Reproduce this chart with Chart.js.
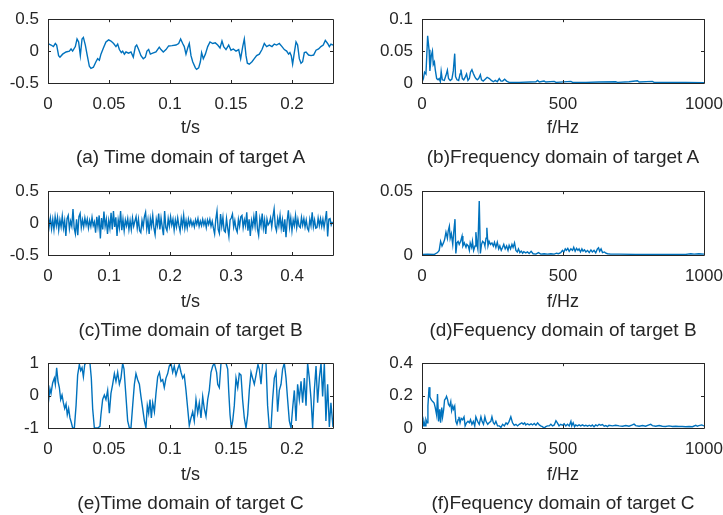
<!DOCTYPE html>
<html>
<head>
<meta charset="utf-8">
<script src="https://cdn.jsdelivr.net/npm/chart.js@4"></script>
<style>
  html, body { margin: 0; padding: 0; background: #fff; width: 723px; height: 515px; overflow: hidden; position: relative; font-family: "Liberation Sans", Arial, sans-serif; }
  canvas { position: absolute; }
  .cap { position: absolute; white-space: nowrap; color: #262626; font-size: 19px; line-height: 20px; transform: translateX(-50%); }
</style>
</head>
<body>
<canvas id="pa"></canvas>
<canvas id="pb"></canvas>
<canvas id="pc"></canvas>
<canvas id="pd"></canvas>
<canvas id="pe"></canvas>
<canvas id="pf"></canvas>
<script>
// (a) target A, time domain
const timeA = [0,0.0025,0.0044,0.0060,0.0071,0.0087,0.0098,0.0120,0.0148,0.0175,
  0.0189,0.0202,0.0224,0.0238,0.0251,0.0265,0.0279,0.0290,0.0306,0.0322,
  0.0339,0.0352,0.0372,0.0393,0.0407,0.0421,0.0434,0.0454,0.0475,0.0497,
  0.0516,0.0538,0.0557,0.0571,0.0585,0.0601,0.0612,0.0626,0.0639,0.0661,
  0.0680,0.0699,0.0716,0.0727,0.0743,0.0762,0.0781,0.0798,0.0811,0.0825,
  0.0839,0.0858,0.0885,0.0912,0.0926,0.0945,0.0967,0.0989,0.1016,0.1049,
  0.1071,0.1087,0.1104,0.1117,0.1131,0.1145,0.1158,0.1172,0.1186,0.1208,
  0.1218,0.1235,0.1249,0.1259,0.1273,0.1290,0.1309,0.1328,0.1350,0.1371,
  0.1391,0.1410,0.1426,0.1440,0.1459,0.1481,0.1500,0.1519,0.1541,0.1563,
  0.1579,0.1596,0.1609,0.1623,0.1634,0.1650,0.1672,0.1691,0.1710,0.1732,
  0.1754,0.1773,0.1792,0.1814,0.1836,0.1855,0.1874,0.1896,0.1918,0.1937,
  0.1956,0.1972,0.1983,0.1994,0.2005,0.2019,0.2033,0.2046,0.2060,0.2074,
  0.2087,0.2101,0.2115,0.2136,0.2156,0.2177,0.2197,0.2218,0.2237,0.2256,
  0.2273,0.2292,0.2306,0.2319,0.2336];
const valueA = [0.119,0.095,0.071,0.119,0.095,-0.071,-0.095,-0.048,-0.014,0,
  0.033,0,0.071,0.19,0.143,-0.071,0.19,0.214,0.095,-0.071,
  -0.238,-0.271,-0.252,-0.167,-0.119,-0.143,-0.048,0.048,0.143,0.176,
  0.157,0.119,0.071,0.110,0.024,-0.024,0,-0.048,-0.014,-0.033,
  -0.014,-0.095,0.071,0.095,0.024,-0.071,-0.119,-0.095,0,0.024,
  -0.048,-0.033,-0.014,0.062,0.024,-0.014,0.024,0.081,0.086,0.095,
  0.119,0.19,0.119,0.071,-0.048,0.048,0.119,-0.071,-0.167,-0.262,
  -0.286,-0.262,-0.167,-0.024,-0.119,-0.048,0.071,0.143,0.119,0.129,
  0.095,0.048,0.157,0.071,0.024,0.095,0.014,0.033,0,0.024,
  -0.119,0.071,0.19,-0.071,-0.19,-0.205,-0.167,-0.119,-0.071,-0.048,
  0.024,0.119,0.071,0.095,0.071,0.110,0.095,0.119,0.071,0.024,
  0,-0.048,-0.024,-0.071,-0.205,-0.024,0.143,0.095,-0.119,-0.19,
  -0.167,-0.024,-0.014,-0.062,-0.071,-0.062,0.014,0.033,0.071,0.095,
  0.167,0.119,0.071,0.110,0.095];

// (b) target A, spectrum
const freqA = [0,5,9,14,20,25,28,33,37,40, 44,47,52,57,61,65,68,72,79,85,
  90,94,100,106,111,116,119,124,130,135, 138,143,148,154,158,163,168,172,177,182,
  187,191,196,201,207,211,217,224,231,239, 246,253,260,267,274,280,286,293,300,309,
  345,404,410,416,433,439,469,475,528,534, 581,628,687,693,734,764,770,817,823,876,
  935,1000];
const ampA = [0.001,0.007,0.017,0.014,0.074,0.052,0.019,0.043,0.050,0.029,
  0.033,0.021,0.007,0.005,0.007,0.002,0.018,0.005,0.004,0.012,
  0.020,0.007,0.004,0.006,0.019,0.046,0.010,0.005,0.004,0.014,
  0.021,0.007,0.005,0.010,0.014,0.004,0.007,0.017,0.021,0.015,
  0.010,0.007,0.005,0.007,0.013,0.005,0.003,0.006,0.009,0.007,
  0.004,0.002,0.004,0.002,0.007,0.003,0.003,0.006,0.003,0.001,
  0.001,0.002,0.004,0.0015,0.003,0.0015,0.0025,0.001,0.0025,0.001,
  0.001,0.0015,0.002,0.001,0.002,0.0035,0.0015,0.0025,0.001,0.001,
  0.001,0.0005];

// (c) target B, time domain (one value per sample)
const sampleStepB = 0.00195;
const valueB = [0.14,-0.05,0.08,-0.09,0.06,-0.1,0.1,-0.04,0.09,-0.11,
  0.05,-0.06,0.11,-0.08,0.04,-0.2,0.07,0.12,-0.09,0.03,
  -0.05,0.22,-0.08,-0.17,0.06,-0.19,0.1,0.15,-0.07,0.05,
  -0.06,0.08,-0.03,0.06,-0.08,0.04,-0.05,0.09,-0.04,0.02,
  -0.15,0.1,-0.06,0.12,-0.24,0.08,-0.1,0.18,-0.05,0.06,
  -0.17,0.04,-0.08,0.16,-0.1,0.19,-0.06,0.09,-0.2,0.05,
  -0.07,0.19,-0.11,0.06,-0.12,0.05,-0.04,0.07,-0.1,0.04,
  -0.1,0.08,-0.05,0.03,0.1,-0.08,0.06,-0.12,-0.15,0.04,
  -0.06,0.1,0.17,-0.09,0.05,-0.17,0.07,-0.05,0.12,-0.08,
  -0.18,0.06,-0.04,0.15,-0.1,0.08,-0.06,-0.19,0.19,-0.07,
  -0.12,0.07,-0.05,0.1,-0.03,0.06,-0.11,0.05,-0.06,0.08,
  -0.04,-0.13,0.07,-0.05,0.12,-0.08,0.04,-0.08,0.06,-0.03,
  0.05,-0.04,0.02,-0.06,0.05,-0.02,0.07,-0.05,0.03,-0.04,
  0.06,-0.03,0.04,-0.07,0.05,-0.02,0.06,-0.05,0.03,-0.08,
  -0.17,0.06,0.19,-0.1,-0.16,0.14,-0.05,0.09,-0.12,-0.14,
  0.07,-0.08,-0.21,0.05,0.08,0.14,-0.06,0.04,-0.09,-0.14,
  0.06,-0.05,0.1,0.12,-0.07,0.05,-0.04,0.17,-0.12,0.06,
  -0.2,0.04,-0.06,0.1,-0.05,0.19,-0.09,-0.19,0.07,-0.04,
  0.15,-0.08,0.05,-0.17,0.06,-0.03,0.0,0.08,-0.06,0.1,
  0.22,-0.05,-0.12,0.07,-0.04,0.12,-0.08,0.05,-0.14,0.06,
  -0.22,0.04,0.2,-0.06,0.08,-0.12,0.05,-0.04,0.12,-0.07,
  0.06,-0.05,-0.07,0.09,-0.03,0.07,-0.06,0.05,-0.08,-0.12,
  0.06,-0.04,0.17,-0.06,0.05,-0.08,-0.07,0.08,-0.04,0.07,
  -0.05,0.06,-0.07,0.05,0.19,-0.21,0.06,0.07,-0.03,0.02];

// (d) target B, spectrum
const freqB = [0,20,44,55,61,66,71,76,80,85, 90,93,97,100,104,109,113,117,120,124,
  128,132,137,142,145,150,156,159,164,168, 171,176,179,183,188,191,195,198,203,207,
  211,215,220,223,227,230,234,238,243,248, 253,257,262,267,272,276,281,286,290,295,
  300,305,309,314,319,323,328,333,338,342, 347,352,357,361,368,374,380,387,394,404,
  413,421,433,445,457,469,477,484,492,498, 503,508,512,517,522,528,534,538,543,548,
  553,557,562,567,571,576,581,587,593,599, 604,610,616,622,626,630,635,640,647,652,
  658,669,699,758,817,876,935,953,965,982,1000];
const ampB = [0.0005,0.0007,0.0005,0.0019,0.0036,0.0107,0.0071,0.0095,0.0119,0.0179,
  0.0131,0.0190,0.0226,0.0131,0.0167,0.0083,0.0190,0.0281,0.0012,0.0095,
  0.0107,0.0083,0.0107,0.0148,0.0071,0.0095,0.0060,0.0083,0.0071,0.0036,
  0.0095,0.0060,0.0107,0.0036,0.0071,0.0179,0.0083,0.0048,0.0424,0.0012,
  0.0083,0.0107,0.0095,0.0071,0.0131,0.0214,0.0071,0.0107,0.0083,0.0095,
  0.0071,0.0100,0.0060,0.0100,0.0048,0.0071,0.0036,0.0060,0.0083,0.0048,
  0.0071,0.0036,0.0076,0.0048,0.0083,0.0060,0.0095,0.0036,0.0024,0.0048,
  0.0019,0.0031,0.0014,0.0026,0.0017,0.0024,0.0012,0.0029,0.0010,0.0007,
  0.0019,0.0007,0.0010,0.0007,0.0010,0.0007,0.0014,0.0010,0.0019,0.0036,
  0.0024,0.0048,0.0036,0.0052,0.0029,0.0048,0.0036,0.0060,0.0029,0.0052,
  0.0036,0.0048,0.0024,0.0048,0.0031,0.0040,0.0024,0.0036,0.0019,0.0040,
  0.0024,0.0036,0.0017,0.0048,0.0057,0.0029,0.0048,0.0019,0.0024,0.0014,
  0.0010,0.0007,0.0007,0.0005,0.0005,0.0005,0.0005,0.0010,0.0007,0.0010,0.0007];

// (e) target C, time domain
const timeC = [0,0.0016,0.0025,0.0038,0.0052,0.0060,0.0071,0.0082,0.0093,0.0104,
  0.0115,0.0126,0.0137,0.0148,0.0158,0.0169,0.0180,0.0191,0.0202,0.0216,
  0.0230,0.0243,0.0257,0.0268,0.0279,0.0290,0.0301,0.0311,0.0333,0.0344,
  0.0355,0.0366,0.0380,0.0407,0.0426,0.0434,0.0448,0.0462,0.0475,0.0489,
  0.0503,0.0516,0.0530,0.0544,0.0557,0.0571,0.0585,0.0598,0.0612,0.0623,
  0.0639,0.0653,0.0667,0.0680,0.0694,0.0708,0.0721,0.0735,0.0749,0.0762,
  0.0776,0.0790,0.0803,0.0814,0.0825,0.0836,0.0847,0.0858,0.0872,0.0885,
  0.0899,0.0913,0.0926,0.0940,0.0953,0.0967,0.0981,0.0994,0.1008,0.1022,
  0.1035,0.1049,0.1063,0.1076,0.1090,0.1104,0.1117,0.1131,0.1145,0.1158,
  0.1172,0.1186,0.1199,0.1213,0.1227,0.1240,0.1254,0.1268,0.1281,0.1295,
  0.1309,0.1322,0.1336,0.1350,0.1363,0.1382,0.1391,0.1404,0.1418,0.1432,
  0.1459,0.1473,0.1481,0.1492,0.1503,0.1514,0.1527,0.1541,0.1555,0.1568,
  0.1582,0.1595,0.1609,0.1623,0.1637,0.1650,0.1664,0.1677,0.1691,0.1705,
  0.1721,0.1732,0.1746,0.1759,0.1773,0.1787,0.1800,0.1814,0.1828,0.1841,
  0.1855,0.1869,0.1882,0.1896,0.1910,0.1923,0.1937,0.1951,0.1964,0.1978,
  0.1992,0.2005,0.2019,0.2033,0.2046,0.2060,0.2074,0.2087,0.2101,0.2115,
  0.2128,0.2142,0.2156,0.2169,0.2183,0.2197,0.2210,0.2224,0.2238,0.2251,
  0.2265,0.2278,0.2292,0.2306,0.2319,0.2336];
const valueC = [-0.31,0.21,0.07,0.39,0.54,0.35,0.86,0.44,0.25,-0.12,
  0.02,-0.22,-0.40,-0.26,-0.59,-0.40,-0.69,-0.83,-1,-1,
  -0.31,0.63,0.96,0.77,0.86,0.58,0.96,1,1,1,
  0.54,-0.40,-1,-1,-0.95,-0.59,-0.12,0.02,-0.12,0.16,
  -0.54,0.07,0.35,0.68,0.44,0.72,0.35,0.54,1,0.82,
  -0.03,-0.78,-1,-1,-0.31,0.35,0.68,0.49,0.35,-0.03,
  -0.40,-0.78,-1,-0.31,-0.54,-0.12,-0.69,-0.22,-0.50,0.07,
  0.58,0.72,0.44,0.49,0.25,0.54,0.68,0.91,1,0.72,
  0.91,0.63,0.82,0.96,0.72,0.54,0.63,0.16,-0.40,-0.92,
  -0.69,-0.50,-0.78,-0.12,-0.54,-0.22,-0.69,-0.03,-0.40,-0.64,
  -0.12,0.16,0.72,0.91,1,0.72,0.35,0.25,1,1,
  1,0.82,0.16,-0.59,-1,-0.78,-0.31,0.54,0.25,0.68,
  0.63,-0.12,-0.69,-1,-0.59,0.16,0.72,0.54,0.35,0.63,
  0.96,0.82,0.35,1,1,1,-0.31,-1,-1,-0.12,
  0.54,0.72,-0.50,0.16,0.35,0.82,1,0.54,-0.12,-0.78,
  -1,-0.40,0.16,-0.78,0.35,-0.12,0.44,-0.22,0.54,-0.31,
  1,0.54,-0.12,-1,0.16,0.91,-0.22,0.54,1,-0.03,
  1,-0.78,0.35,-0.97,-0.22,-0.97];

// (f) target C, spectrum
const freqC = [0,4,7,11,14,18,21,25,28,33, 38,43,47,52,55,59,63,66,70,73,
  77,80,84,87,91,94,98,102,105,109, 112,116,120,124,128,131,135,139,144,149,
  153,158,163,168,172,177,182,187,191,197, 203,209,213,218,223,227,233,238,244,248,
  253,257,262,268,274,280,286,292,298,303, 309,315,321,327,333,339,345,354,359,364,
  368,374,380,387,392,398,404,410,416,421, 427,433,439,445,451,457,463,469,475,480,
  486,492,498,504,510,516,522,528,531,536, 541,545,551,557,563,569,575,581,587,593,
  599,604,610,616,622,628,634,640,646,652, 658,663,675,687,699,711,723,734,746,752,
  758,770,782,793,805,811,817,829,841,852, 864,876,888,900,911,923,935,947,959,971,
  976,982,992,1000];
const ampC = [0.060,0.013,0.041,0.013,0.051,0.032,0.135,0.252,0.192,0.173,
  0.163,0.154,0.126,0.079,0.210,0.041,0.116,0.032,0.126,0.069,
  0.116,0.173,0.182,0.195,0.173,0.145,0.135,0.163,0.107,0.135,
  0.116,0.135,0.041,0.023,0.051,0.069,0.032,0.060,0.051,0.069,
  0.013,0.032,0.041,0.032,0.051,0.023,0.041,0.013,0.069,0.041,
  0.023,0.069,0.041,0.023,0.069,0.041,0.023,0.032,0.041,0.069,
  0.032,0.023,0.041,0.013,0.013,0.004,0.023,0.013,0.032,0.023,
  0.041,0.069,0.032,0.017,0.023,0.013,0.023,0.032,0.023,0.032,
  0.019,0.026,0.019,0.026,0.019,0.028,0.017,0.032,0.019,0.013,
  0.008,0.000,0.008,0.013,0.013,0.023,0.013,0.019,0.045,0.032,
  0.013,0.023,0.017,0.026,0.013,0.023,0.013,0.041,0.013,0.032,
  0.008,0.019,0.013,0.019,0.013,0.019,0.013,0.017,0.011,0.017,
  0.011,0.019,0.008,0.019,0.013,0.023,0.017,0.021,0.011,0.015,
  0.009,0.017,0.013,0.017,0.013,0.011,0.015,0.011,0.019,0.024,
  0.015,0.011,0.015,0.011,0.019,0.023,0.015,0.011,0.015,0.011,
  0.009,0.013,0.009,0.011,0.009,0.009,0.008,0.009,0.008,0.017,
  0.011,0.015,0.019,0.013];

// tick values and labels
const timeTicksShort = [0, 0.05, 0.1, 0.15, 0.2];
const timeLabelsShort = ["0", "0.05", "0.1", "0.15", "0.2"];
const timeTicksLong = [0, 0.1, 0.2, 0.3, 0.4];
const timeLabelsLong = ["0", "0.1", "0.2", "0.3", "0.4"];
const freqTicks = [0, 500, 1000];
const freqLabels = ["0", "500", "1000"];

const lineColor = "#0072BD";
const axisColor = "#262626";

function pairs(xs, ys) {
  return xs.map((x, i) => ({ x: x, y: ys[i] }));
}

// layout of each panel on the page (pixels)
const rows = [
  { top: 0, height: 172, plotTop: 13, plotBottom: 83, titleY: 128, captionY: 157 },
  { top: 172, height: 172, plotTop: 185, plotBottom: 255, titleY: 302, captionY: 330 },
  { top: 344, height: 171, plotTop: 357, plotBottom: 428, titleY: 475, captionY: 503 }
];
const cols = [
  { left: 0, width: 345, plotLeft: 48, plotRight: 333 },
  { left: 372, width: 368, plotLeft: 422, plotRight: 704 }
];

const panels = [
  { id: "pa", row: 0, col: 0, points: pairs(timeA, valueA), xMax: 0.2336,
    xTicks: timeTicksShort, xLabels: timeLabelsShort, yMin: -0.5, yMax: 0.5,
    yTicks: [-0.5, 0, 0.5], yLabels: ["-0.5", "0", "0.5"], xTitle: "t/s",
    caption: "(a) Time domain of target A" },
  { id: "pb", row: 0, col: 1, points: pairs(freqA, ampA), xMax: 1000,
    xTicks: freqTicks, xLabels: freqLabels, yMin: 0, yMax: 0.1,
    yTicks: [0, 0.05, 0.1], yLabels: ["0", "0.05", "0.1"], xTitle: "f/Hz",
    caption: "(b)Frequency domain of target A" },
  { id: "pc", row: 1, col: 0, points: valueB.map((v, i) => ({ x: i * sampleStepB, y: v })), xMax: 0.467,
    xTicks: timeTicksLong, xLabels: timeLabelsLong, yMin: -0.5, yMax: 0.5,
    yTicks: [-0.5, 0, 0.5], yLabels: ["-0.5", "0", "0.5"], xTitle: "t/s",
    caption: "(c)Time domain of target B" },
  { id: "pd", row: 1, col: 1, points: pairs(freqB, ampB), xMax: 1000,
    xTicks: freqTicks, xLabels: freqLabels, yMin: 0, yMax: 0.05,
    yTicks: [0, 0.05], yLabels: ["0", "0.05"], xTitle: "f/Hz",
    caption: "(d)Fequency domain of target B" },
  { id: "pe", row: 2, col: 0, points: pairs(timeC, valueC), xMax: 0.2336,
    xTicks: timeTicksShort, xLabels: timeLabelsShort, yMin: -1, yMax: 1,
    yTicks: [-1, 0, 1], yLabels: ["-1", "0", "1"], xTitle: "t/s",
    caption: "(e)Time domain of target C" },
  { id: "pf", row: 2, col: 1, points: pairs(freqC, ampC), xMax: 1000,
    xTicks: freqTicks, xLabels: freqLabels, yMin: 0, yMax: 0.4,
    yTicks: [0, 0.2, 0.4], yLabels: ["0", "0.2", "0.4"], xTitle: "f/Hz",
    caption: "(f)Fequency domain of target C" }
];

// MATLAB style box with inward tick marks
const boxPlugin = {
  id: "box",
  afterDatasetsDraw(chart) {
    const { ctx, chartArea: a, scales } = chart;
    const tick = 3;
    ctx.save();
    ctx.strokeStyle = axisColor;
    ctx.lineWidth = 1;
    ctx.beginPath();
    ctx.rect(Math.round(a.left) + 0.5, Math.round(a.top) + 0.5,
      Math.round(a.right - a.left), Math.round(a.bottom - a.top));
    scales.x.ticks.forEach(t => {
      const px = Math.round(scales.x.getPixelForValue(t.value)) + 0.5;
      ctx.moveTo(px, a.bottom); ctx.lineTo(px, a.bottom - tick);
      ctx.moveTo(px, a.top); ctx.lineTo(px, a.top + tick);
    });
    scales.y.ticks.forEach(t => {
      const py = Math.round(scales.y.getPixelForValue(t.value)) + 0.5;
      ctx.moveTo(a.left, py); ctx.lineTo(a.left + tick, py);
      ctx.moveTo(a.right, py); ctx.lineTo(a.right - tick, py);
    });
    ctx.stroke();
    ctx.restore();
  }
};

panels.forEach(p => {
  const r = rows[p.row];
  const c = cols[p.col];
  const canvas = document.getElementById(p.id);
  canvas.width = c.width;
  canvas.height = r.height;
  canvas.style.left = c.left + "px";
  canvas.style.top = r.top + "px";

  const xHeight = r.top + r.height - r.plotBottom;
  const titleFont = 18;
  const titlePad = r.top + r.height - r.titleY - titleFont * 0.6;

  new Chart(canvas, {
    type: "line",
    data: {
      datasets: [{
        data: p.points,
        borderColor: lineColor,
        borderWidth: 1.4,
        pointRadius: 0,
        tension: 0,
        fill: false
      }]
    },
    options: {
      responsive: false,
      animation: false,
      events: [],
      layout: { padding: { left: 0, right: c.left + c.width - c.plotRight, top: r.plotTop - r.top, bottom: 0 } },
      plugins: { legend: { display: false }, tooltip: { enabled: false } },
      scales: {
        x: {
          type: "linear",
          min: 0,
          max: p.xMax,
          afterBuildTicks: s => { s.ticks = p.xTicks.map(v => ({ value: v })); },
          afterFit: s => { s.height = xHeight; },
          grid: { display: false, drawTicks: false },
          border: { display: false },
          ticks: {
            padding: 11,
            maxRotation: 0,
            autoSkip: false,
            color: axisColor,
            font: { family: "Liberation Sans", size: 17 },
            callback: (v, i) => p.xLabels[i]
          },
          title: {
            display: true,
            text: p.xTitle,
            color: axisColor,
            font: { family: "Liberation Sans", size: titleFont },
            padding: { top: 0, bottom: titlePad }
          }
        },
        y: {
          min: p.yMin,
          max: p.yMax,
          afterBuildTicks: s => { s.ticks = p.yTicks.map(v => ({ value: v })); },
          afterFit: s => { s.width = c.plotLeft - c.left; },
          grid: { display: false, drawTicks: false },
          border: { display: false },
          ticks: {
            padding: 9,
            autoSkip: false,
            color: axisColor,
            font: { family: "Liberation Sans", size: 17 },
            callback: (v, i) => p.yLabels[i]
          }
        }
      }
    },
    plugins: [boxPlugin]
  });

  const cap = document.createElement("div");
  cap.className = "cap";
  cap.textContent = p.caption;
  cap.style.left = ((c.plotLeft + c.plotRight) / 2) + "px";
  cap.style.top = (r.captionY - 10) + "px";
  document.body.appendChild(cap);
});
</script>
</body>
</html>
